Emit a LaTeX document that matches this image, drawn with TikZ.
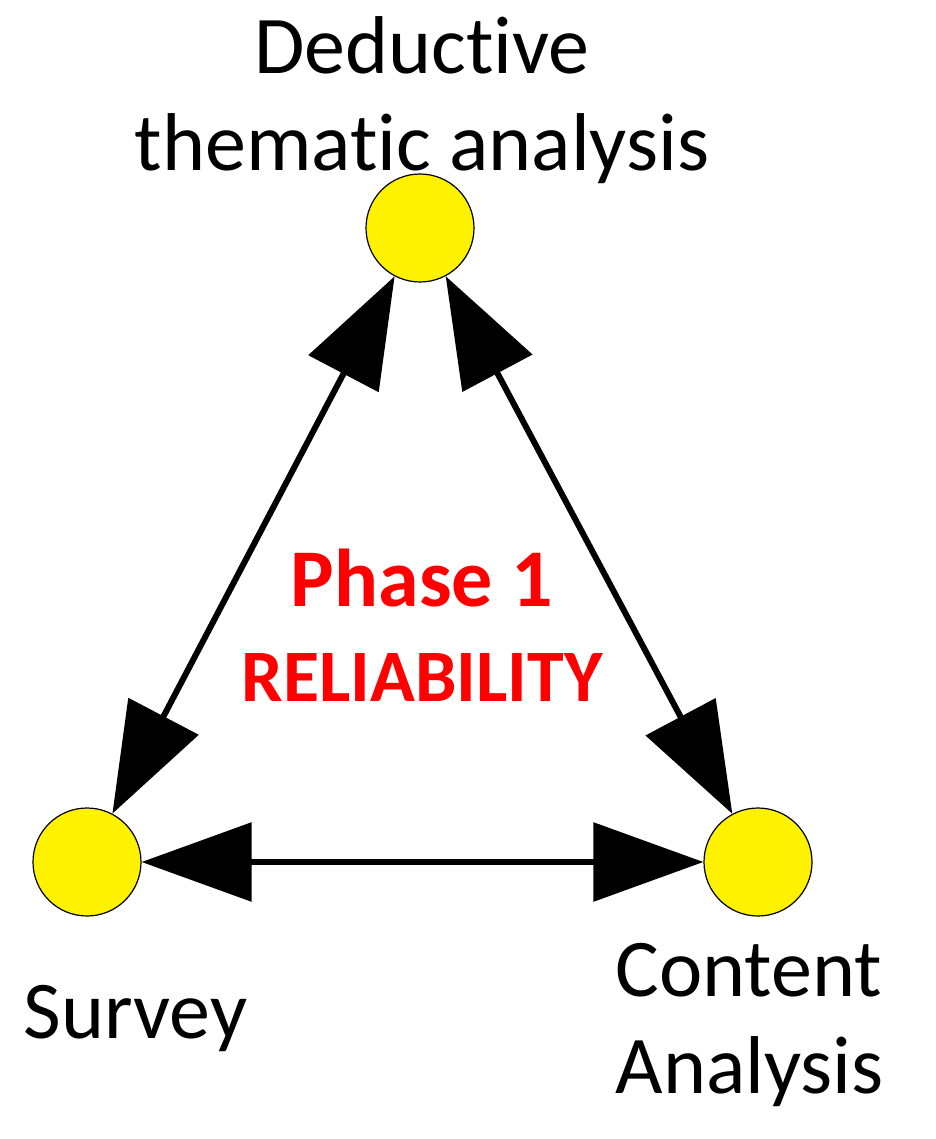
\documentclass[tikz,border=0pt]{standalone}
\usepackage{fontspec}
\setmainfont{Carlito}[Ligatures=NoCommon]
\usetikzlibrary{arrows.meta}
\begin{document}
\begin{tikzpicture}[x=1pt,y=-1pt,
  dot/.style={circle,draw=black,line width=1.2pt,fill=yellow,minimum size=108pt,inner sep=0pt},
  lab/.style={font=\fontsize{82}{97}\selectfont,align=center},
  con/.style={line width=6pt,{Triangle[length=110pt,width=78pt]}-{Triangle[length=110pt,width=78pt]}}]
\useasboundingbox (0,0) rectangle (935,1139);
\node[dot] (T) at (420,228) {};
\node[dot] (S) at (87,862) {};
\node[dot] (C) at (758,862) {};
\draw[con] (T) -- (S);
\draw[con] (T) -- (C);
\draw[con] (S) -- (C);
\node[lab] (tl) at (422,100) {Deduct\kern0pt ive\\themat\kern0pt ic analysis};
\node[lab,anchor=west] (sl) at (20,1018) {Survey};
\node[lab,anchor=west,align=left] (cl) at (612,1025) {Content\\Analysis};
\node[font=\bfseries\fontsize{82}{90}\selectfont,text=red] (p) at (422,578) {Phase 1};
\node[font=\bfseries\fontsize{74}{80}\selectfont,text=red] (r) at (422,678) {RELIABILITY};
\end{tikzpicture}
\end{document}
